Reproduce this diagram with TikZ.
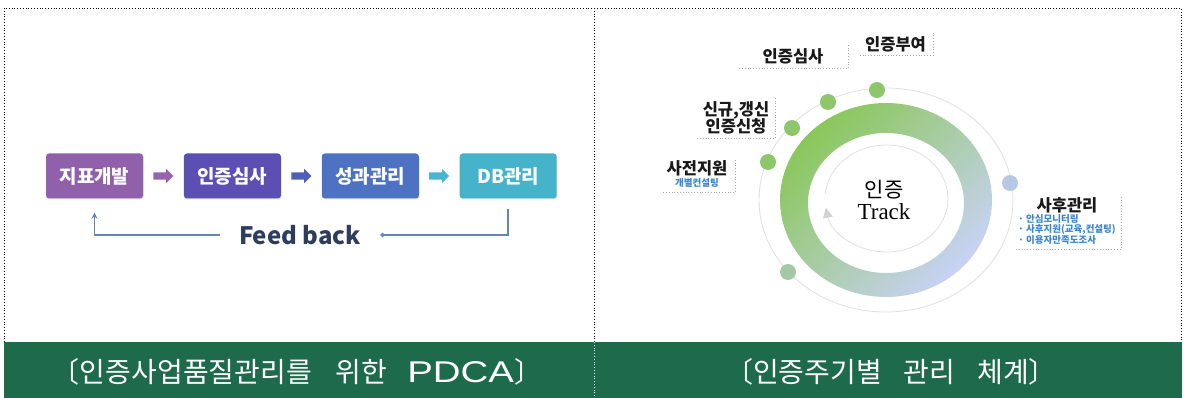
\documentclass[tikz,border=0pt]{standalone}
\usepackage{fontspec}
\setmainfont{Noto Sans CJK KR}
\newfontfamily\trackfont{Liberation Serif}
\newfontfamily\capfont{Liberation Sans}
\usetikzlibrary{positioning,calc,shapes.arrows,arrows.meta,shadows}

\begin{document}
\begin{tikzpicture}[x=1pt,y=-1pt]
    \definecolor{colband}{HTML}{1E6B4B}
    \definecolor{colA}{HTML}{9160AA}
    \definecolor{colB}{HTML}{5B4FB3}
    \definecolor{colC}{HTML}{4D72C2}
    \definecolor{colD}{HTML}{45B3C9}
    \definecolor{colarA}{HTML}{9664AE}
    \definecolor{colarB}{HTML}{4E5FB8}
    \definecolor{colarC}{HTML}{4AB5D0}
    \definecolor{colfb}{HTML}{6385BA}
    \definecolor{colfbtext}{HTML}{2E3D5C}
    \definecolor{colringA}{HTML}{8AC75A}
    \definecolor{colringM}{HTML}{AECBB0}
    \definecolor{colringB}{HTML}{C8D2F5}
    \definecolor{coldot}{HTML}{8DC66B}
    \definecolor{coldotgray}{HTML}{A5C9A5}
    \definecolor{coldotblue}{HTML}{B5C9E6}
    \definecolor{colsub}{HTML}{3A86D0}

    \tikzstyle{pbox}=[rounded corners=3pt,minimum width=97pt,minimum height=45pt,text=white,
                      font=\fontsize{19}{21}\selectfont\bfseries,
                      drop shadow={opacity=0.2,shadow xshift=1pt,shadow yshift=-1pt}]
    \tikzstyle{parrow}=[single arrow,minimum height=20pt,single arrow head extend=3.5pt,inner sep=3.5pt]
    \tikzstyle{fbline}=[colfb,line width=1.6pt]
    \tikzstyle{orbit}=[gray!25,line width=0.8pt]
    \tikzstyle{dot}=[circle,minimum size=16pt,inner sep=0pt]
    \tikzstyle{lbl}=[font=\fontsize{16.5}{19}\selectfont\bfseries,text=black!90,align=center]
    \tikzstyle{lbledge}=[gray!70,dotted,line width=0.8pt]
    \tikzstyle{sub}=[font=\fontsize{9.5}{10.5}\selectfont\bfseries,text=colsub]
    \tikzstyle{captext}=[text=white,font=\fontsize{28}{30}\selectfont]

    \useasboundingbox (0,0) rectangle (1184,398);
    % frame
    \draw[black,dotted,line width=0.8pt] (4,342) |- (1181,8) -- (1181,342);
    \draw[black,dotted,line width=0.8pt] (594,8) -- (594,342);
    % caption band
    \fill[colband] (4,342) rectangle (1182,398);
    \draw[white,dotted,line width=0.8pt] (594,342) -- (594,398);
    \node[captext] (capL) at (297,372)
        {〔인증사업품질관리를\hspace{24pt}위한\hspace{20pt}{\capfont\fontsize{30}{30}\selectfont\scalebox{1.28}[1]{PDCA}}〕};
    \node[captext] (capR) at (891,372) {〔인증주기별\hspace{22pt}관리\hspace{22pt}체계〕};

    % PDCA boxes
    \node[pbox,fill=colA] (jipyo) at (94.5,176) {지표개발};
    \node[parrow,fill=colarA,right=10pt of jipyo] (ar1) {};
    \node[pbox,fill=colB,right=10pt of ar1] (simsa) {인증심사};
    \node[parrow,fill=colarB,right=10pt of simsa] (ar2) {};
    \node[pbox,fill=colC,right=10pt of ar2] (seonggwa) {성과관리};
    \node[parrow,fill=colarC,right=10pt of seonggwa] (ar3) {};
    \node[pbox,fill=colD,right=10pt of ar3] (db) {DB관리};
    % feedback
    \node[text=colfbtext,font=\fontsize{24}{26}\selectfont\bfseries] (fb) at (300,235) {Feed back};
    \draw[fbline,-{Circle[length=4pt]}] ([yshift=-10pt]db.south) |- ([xshift=16pt]fb.east);
    \draw[fbline,-{Stealth[length=6pt,width=6pt]}] ([xshift=-15pt]fb.west) -| ([yshift=-14pt]jipyo.south);

    % track
    \coordinate (ctr) at (886,200);
    \draw[orbit] (ctr) ellipse[x radius=127,y radius=112];
    \shade[even odd rule,top color=colringA,middle color=colringM,bottom color=colringB,shading angle=45]
        (ctr) ellipse[x radius=106,y radius=97] (886,203) ellipse[x radius=78,y radius=70];
    \draw[gray!25,line width=0.8pt,-{Triangle[length=10pt,width=10pt,color=gray!35]}]
        (886.5,198.5) ++(-175:61.5 and 53.5) arc[start angle=-175,end angle=170,x radius=61.5,y radius=53.5];
    \node[align=center,font=\fontsize{21}{24}\selectfont] (track) at (884,200) {인증\\[-2pt]{\trackfont\fontsize{23}{24}\selectfont Track}};
    % dots
    \node[dot,fill=coldot] (d1) at (877,90) {};
    \node[dot,fill=coldot] (d2) at (828,102) {};
    \node[dot,fill=coldot] (d3) at (792,128) {};
    \node[dot,fill=coldot] (d4) at (768,162) {};
    \node[dot,fill=coldotgray] (d5) at (788,272) {};
    \node[dot,fill=coldotblue] (d6) at (1010,183) {};

    % labels
    \node[lbl,minimum width=75pt,minimum height=22pt] (bu) at (895.5,44) {인증부여};
    \node[lbl,minimum width=110pt,minimum height=23pt] (sa) at (793,56.5) {인증심사};
    \node[lbl,minimum width=78pt,minimum height=40pt] (sin) at (736,118) {신규,갱신\\[-2pt]인증신청};
    \node[minimum width=73pt,minimum height=32pt] (pre) at (698.5,176) {};
    \node[lbl] (preT) at (697,168) {사전지원};
    \node[sub] (preS) at (697,183) {개별컨설팅};
    \node[minimum width=106pt,minimum height=52pt] (post) at (1068,223) {};
    \node[lbl] (postT) at (1067,205) {사후관리};
    \node[sub,align=left,anchor=north west,inner sep=0pt] (postS) at (1018,214)
        {· 안심모니터링\\· 사후지원(교육,컨설팅)\\· 이용자만족도조사};
    \foreach \n in {bu,sa,sin,pre,post}
        \draw[lbledge] (\n.north east) -- (\n.south east) -- (\n.south west);
\end{tikzpicture}
\end{document}
